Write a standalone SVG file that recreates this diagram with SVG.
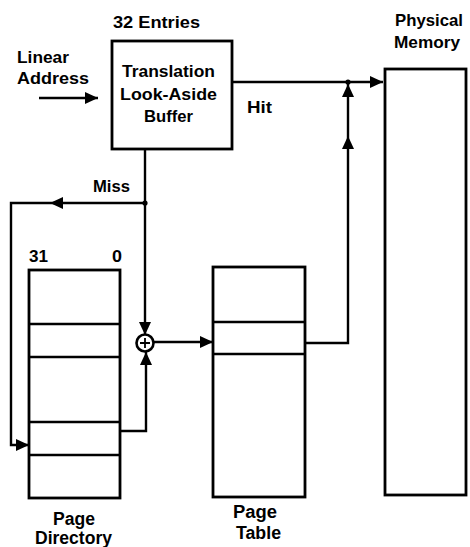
<svg xmlns="http://www.w3.org/2000/svg" width="470" height="547" viewBox="0 0 470 547">
<defs>
<style>
.t{font-family:"Liberation Sans",Arial,sans-serif;font-weight:bold;font-size:17px;fill:#000}
.b{font-size:18px}
.m{text-anchor:middle}
.box{fill:#fff;stroke:#000;stroke-width:2.8}
.ln{fill:none;stroke:#000;stroke-width:2.4}
.ar{marker-end:url(#ah)}
</style>
<marker id="ah" viewBox="0 0 13 12" refX="13" refY="6" markerWidth="13" markerHeight="12" markerUnits="userSpaceOnUse" orient="auto">
<path d="M0,0 L13,6 L0,12 z" fill="#000"/>
</marker>
</defs>
<rect width="470" height="547" fill="#fff"/>

<g id="connectors">
<path class="ln ar" d="M39,98 H98"/>
<path class="ln ar" d="M232,82 H383"/>
<path class="ln ar" d="M305,343 H348 V136"/>
<path class="ln ar" d="M348,136 V84"/>
<path class="ln ar" d="M145,149 V335"/>
<path class="ln ar" d="M145,203 H50"/>
<path class="ln ar" d="M50,203 H11 V445 H29"/>
<path class="ln ar" d="M120,431 H146 V352"/>
<path class="ln ar" d="M153,342 H213"/>
<circle cx="145" cy="203" r="2.6" fill="#000"/>
<circle cx="348" cy="82" r="2.6" fill="#000"/>
</g>

<g id="adder">
<circle cx="145" cy="343" r="8.5" fill="#fff" stroke="#000" stroke-width="2.6"/>
<path d="M140,343 H150 M145,338 V348" stroke="#000" stroke-width="1.8"/>
</g>

<g id="linear-address">
<text class="t" x="17" y="63" textLength="52" lengthAdjust="spacingAndGlyphs">Linear</text>
<text class="t" x="17" y="84" textLength="72" lengthAdjust="spacingAndGlyphs">Address</text>
</g>

<g id="tlb">
<text class="t m" x="156.5" y="28" textLength="87" lengthAdjust="spacingAndGlyphs">32 Entries</text>
<rect class="box" x="112" y="41" width="120" height="108"/>
<text class="t m" x="168.5" y="77" textLength="93" lengthAdjust="spacingAndGlyphs">Translation</text>
<text class="t m" x="168.5" y="100" textLength="97" lengthAdjust="spacingAndGlyphs">Look-Aside</text>
<text class="t m" x="168.5" y="122" textLength="49" lengthAdjust="spacingAndGlyphs">Buffer</text>
</g>

<g id="labels">
<text class="t" x="247" y="113" textLength="25" lengthAdjust="spacingAndGlyphs">Hit</text>
<text class="t" x="93" y="192" textLength="37" lengthAdjust="spacingAndGlyphs">Miss</text>
</g>

<g id="physical-memory">
<text class="t m" x="429" y="26" textLength="68" lengthAdjust="spacingAndGlyphs">Physical</text>
<text class="t m" x="427" y="48" textLength="66" lengthAdjust="spacingAndGlyphs">Memory</text>
<rect class="box" x="385" y="69" width="81" height="426"/>
</g>

<g id="page-directory">
<text class="t" x="29" y="262" textLength="19" lengthAdjust="spacingAndGlyphs">31</text>
<text class="t" x="112" y="262" textLength="10" lengthAdjust="spacingAndGlyphs">0</text>
<rect class="box" x="29" y="270" width="91" height="228"/>
<path class="ln" d="M29,324 H120 M29,357 H120 M29,422 H120 M29,455 H120" stroke-width="2.6"/>
<text class="t b m" x="74" y="525" textLength="42" lengthAdjust="spacingAndGlyphs">Page</text>
<text class="t b m" x="73.5" y="544" textLength="77" lengthAdjust="spacingAndGlyphs">Directory</text>
</g>

<g id="page-table">
<rect class="box" x="213" y="267" width="92" height="230"/>
<path class="ln" d="M213,322 H305 M213,354 H305" stroke-width="2.6"/>
<text class="t b m" x="255" y="518" textLength="44" lengthAdjust="spacingAndGlyphs">Page</text>
<text class="t b m" x="258.5" y="539" textLength="45" lengthAdjust="spacingAndGlyphs">Table</text>
</g>
</svg>
